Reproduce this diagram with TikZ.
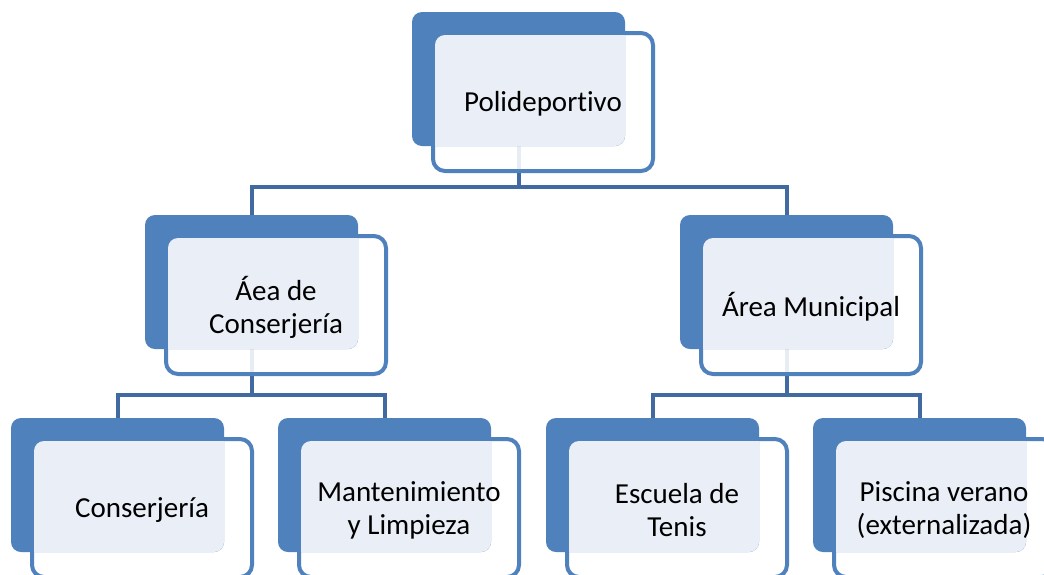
\documentclass[tikz,border=0pt]{standalone}
\usepackage{fontspec}
\newfontfamily\orgfont[Ligatures=NoCommon]{Carlito}
\definecolor{darkblue}{RGB}{79,129,189}
\definecolor{boxblue}{RGB}{79,129,189}
\definecolor{lightfill}{RGB}{234,239,247}
\definecolor{linkblue}{RGB}{65,107,160}
\tikzset{
  unit/.style={rectangle, minimum width=213pt, minimum height=134pt, inner sep=0pt, outer sep=0pt},
  frontbox/.style={rectangle, rounded corners=12pt, minimum width=220pt, minimum height=138pt,
    draw=boxblue, line width=4pt, fill=white, fill opacity=0.88, inner sep=0pt, outer sep=0pt},
  conn/.style={draw=linkblue, line width=4pt},
  label/.style={font=\orgfont\fontsize{29pt}{33pt}\selectfont, align=center, text=black, inner sep=0pt},
}
% one organisation unit: outlined front card, solid back card, tinted overlap, text
\newcommand\orgunit[2]{%
  \node[frontbox] (#1f) at ([shift={(24.5,23)}]#1.center) {};
  \fill[darkblue, rounded corners=10pt] (#1.north west) rectangle (#1.south east);
  \begin{scope}
    \clip[rounded corners=10pt] (#1.north west) rectangle (#1.south east);
    \fill[lightfill, rounded corners=10pt] ([shift={(2,2)}]#1f.north west) rectangle ([shift={(-2,-2)}]#1f.south east);
  \end{scope}
  \node[label] (#1t) at ([shift={(0,2)}]#1f.center) {#2};
}
\begin{document}
\begin{tikzpicture}[x=1pt, y=-1pt]
\useasboundingbox (0,0) rectangle (1044,574);
\clip (0,0) rectangle (1044,574);
\fill[white] (0,0) rectangle (1044,574);

% unit frames (placement only)
\node[unit] (p)  at (518.5,79) {};
\node[unit] (a)  at (251.5,282) {};
\node[unit] (b)  at (786.5,282) {};
\node[unit] (a1) at (117.5,485) {};
\node[unit] (a2) at (384.5,485) {};
\node[unit] (b1) at (652.5,485) {};
\node[unit] (b2) at (919.5,485) {};
\coordinate (bus1) at (0,187);
\coordinate (bus2) at (0,395);

% connectors
\draw[conn] (p.south) -- (p.south |- bus1) -| (a.north);
\draw[conn] (p.south |- bus1) -| (b.north);
\draw[conn] (a.south) -- (a.south |- bus2) -| (a1.north);
\draw[conn] (a.south |- bus2) -| (a2.north);
\draw[conn] (b.south) -- (b.south |- bus2) -| (b1.north);
\draw[conn] (b.south |- bus2) -| (b2.north);

% units
\orgunit{p}{Polideportivo}
\orgunit{a}{Áea de\\Conserjería}
\orgunit{b}{Área Municipal}
\orgunit{a1}{Conserjería}
\orgunit{a2}{Mantenimiento\\y Limpieza}
\orgunit{b1}{Escuela de\\Tenis}
\orgunit{b2}{Piscina verano\\(externalizada)}
\end{tikzpicture}
\end{document}
